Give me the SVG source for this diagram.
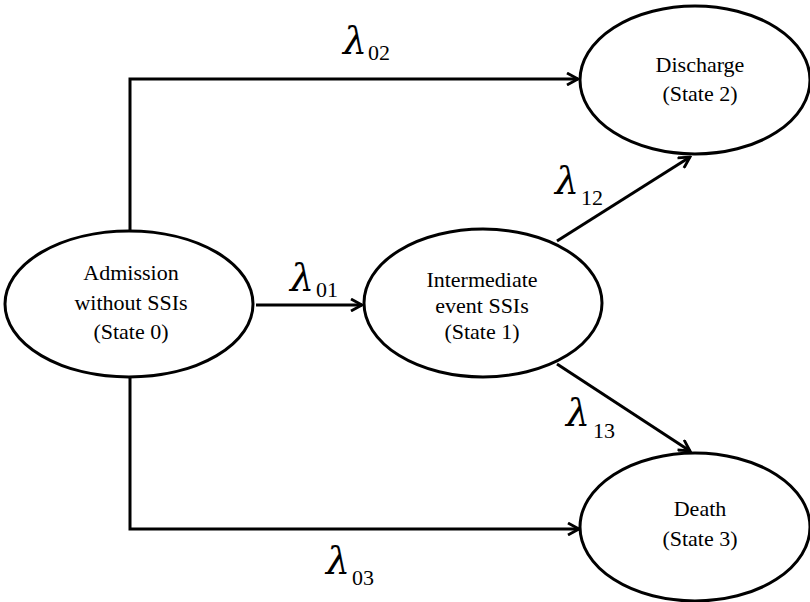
<svg xmlns="http://www.w3.org/2000/svg" width="810" height="602" viewBox="0 0 810 602">
  <style>
    .state { fill: #ffffff; stroke: #000000; stroke-width: 3; }
    .label { font-family: "Liberation Serif", "DejaVu Serif", serif; font-size: 22px; fill: #000000; text-anchor: middle; }
    .edge { fill: none; stroke: #000000; stroke-width: 3; }
    .lam { font-family: "DejaVu Serif", "Liberation Serif", serif; font-style: italic; font-size: 38px; fill: #000000; }
    .sub { font-family: "Liberation Serif", "DejaVu Serif", serif; font-style: normal; font-size: 22px; fill: #000000; }
  </style>
  <defs>
    <marker id="arrow" viewBox="0 0 14 14" refX="12" refY="7" markerWidth="14" markerHeight="14" markerUnits="userSpaceOnUse" orient="auto">
      <path d="M1,1 L12,7 L1,13" fill="none" stroke="#000000" stroke-width="2.8" stroke-linejoin="miter"/>
    </marker>
  </defs>
  <rect width="810" height="602" fill="#ffffff"/>

  <!-- transitions -->
  <g id="connectors">
    <path class="edge" d="M130,231 V79 H578" marker-end="url(#arrow)"/>
    <path class="edge" d="M130,377 V529 H579" marker-end="url(#arrow)"/>
    <path class="edge" d="M256,305 H362" marker-end="url(#arrow)"/>
    <path class="edge" d="M557,241 L690,157" marker-end="url(#arrow)"/>
    <path class="edge" d="M557,364 L690,451" marker-end="url(#arrow)"/>

    <text class="lam" x="343" y="54">λ<tspan class="sub" x="368" y="60">02</tspan></text>
    <text class="lam" x="290" y="291">λ<tspan class="sub" x="316" y="297">01</tspan></text>
    <text class="lam" x="555" y="194">λ<tspan class="sub" x="581" y="205">12</tspan></text>
    <text class="lam" x="566" y="426">λ<tspan class="sub" x="593" y="438">13</tspan></text>
    <text class="lam" x="326" y="574">λ<tspan class="sub" x="352" y="585">03</tspan></text>
  </g>

  <g id="state0">
    <ellipse class="state" cx="129" cy="304" rx="124" ry="73"/>
    <text class="label" x="131" y="280">Admission</text>
    <text class="label" x="131" y="310">without SSIs</text>
    <text class="label" x="131" y="339">(State 0)</text>
  </g>

  <g id="state1">
    <ellipse class="state" cx="483" cy="303" rx="119" ry="74"/>
    <text class="label" x="482" y="287">Intermediate</text>
    <text class="label" x="482" y="313">event SSIs</text>
    <text class="label" x="482" y="339">(State 1)</text>
  </g>

  <g id="state2">
    <ellipse class="state" cx="695" cy="80" rx="115" ry="74"/>
    <text class="label" x="700" y="72">Discharge</text>
    <text class="label" x="700" y="101">(State 2)</text>
  </g>

  <g id="state3">
    <ellipse class="state" cx="695" cy="527" rx="115" ry="74"/>
    <text class="label" x="700" y="516">Death</text>
    <text class="label" x="700" y="546">(State 3)</text>
  </g>
</svg>
